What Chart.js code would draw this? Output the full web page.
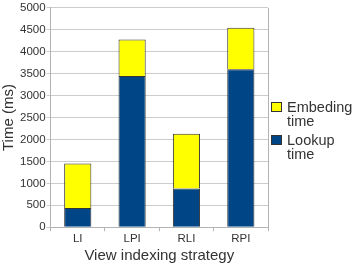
<!DOCTYPE html>
<html>
<head>
<meta charset="utf-8">
<script src="https://cdn.jsdelivr.net/npm/chart.js@4"></script>
<style>
  html, body { margin:0; padding:0; background:#fff; }
  #wrap { position:relative; width:354px; height:265px; }
  .leg { position:absolute; left:271px; font:14.5px "Liberation Sans", Arial, sans-serif; color:#333; line-height:14px; }
  .leg .box { position:absolute; left:0; top:2px; width:11px; height:10px; border:1px solid #333; box-sizing:border-box; }
  .leg .txt { margin-left:16px; }
</style>
</head>
<body>
<div id="wrap">
  <canvas id="c" width="354" height="265"></canvas>
  <div class="leg" style="top:100px"><div class="box" style="background:#ffff00"></div><div class="txt">Embeding<br>time</div></div>
  <div class="leg" style="top:133px"><div class="box" style="background:#004586"></div><div class="txt">Lookup<br>time</div></div>
</div>
<script>
const categories = ['LI', 'LPI', 'RLI', 'RPI'];
const lookupTime = [440, 3450, 880, 3600];
const embedTime  = [1010, 830, 1250, 950];   // stacked on top of lookup
const yTicks     = { min: 0, max: 5000, step: 500 };

const FONT = '"Liberation Sans", Arial, sans-serif';

new Chart(document.getElementById('c'), {
  type: 'bar',
  data: {
    labels: categories,
    datasets: [
      { label: 'Lookup time',   data: lookupTime, backgroundColor: '#004586', borderColor: '#333', borderWidth: 1 },
      { label: 'Embeding time', data: embedTime,  backgroundColor: '#ffff00', borderColor: '#333', borderWidth: 1 },
    ],
  },
  options: {
    responsive: false,
    animation: false,
    layout: { padding: { top: 2, right: 86, left: 0, bottom: 0 } },
    datasets: { bar: { barPercentage: 0.5, categoryPercentage: 1 } },
    plugins: { legend: { display: false }, tooltip: { enabled: false } },
    scales: {
      x: {
        stacked: true,
        grid: { display: true, drawOnChartArea: false, offset: true, tickLength: 4, color: '#b3b3b3' },
        border: { color: '#b3b3b3' },
        ticks: { color: '#333', font: { family: FONT, size: 11.5 }, padding: 1 },
        title: { display: true, text: 'View indexing strategy', color: '#333', font: { family: FONT, size: 15 }, padding: { top: 0, bottom: 0 } },
      },
      y: {
        stacked: true,
        min: yTicks.min, max: yTicks.max,
        grid: { color: '#cccccc', tickLength: 4 },
        border: { color: '#b3b3b3' },
        ticks: { stepSize: yTicks.step, color: '#333', font: { family: FONT, size: 11.5 }, padding: 1, callback: v => String(v) },
        title: { display: true, text: 'Time (ms)', color: '#333', font: { family: FONT, size: 15 }, padding: { top: 0, bottom: 1 } },
      },
    },
  },
  plugins: [{
    // right border of the plot frame
    id: 'frame',
    afterDraw(chart) {
      const { ctx, chartArea: a } = chart;
      ctx.save();
      ctx.strokeStyle = '#b3b3b3';
      ctx.lineWidth = 1;
      ctx.beginPath();
      ctx.moveTo(Math.round(a.right) + 0.5, a.top);
      ctx.lineTo(Math.round(a.right) + 0.5, a.bottom);
      ctx.stroke();
      ctx.restore();
    },
  }],
});
</script>
</body>
</html>
